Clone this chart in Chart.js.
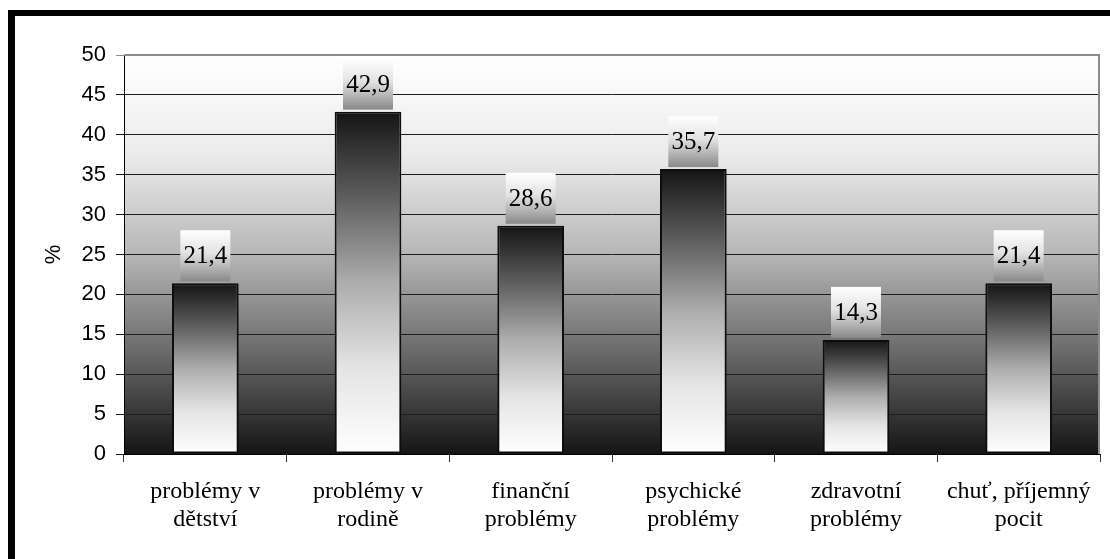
<!DOCTYPE html>
<html>
<head>
<meta charset="utf-8">
<script src="https://cdn.jsdelivr.net/npm/chart.js@4.4.1/dist/chart.umd.min.js"></script>
<style>
  html, body { margin: 0; padding: 0; background: #fff; }
  #wrap { position: relative; width: 1110px; height: 559px; overflow: hidden; }
  #wrap canvas { position: absolute; left: 0; top: 0; }
  #frame {
    position: absolute; left: 8px; top: 10px; width: 1300px; height: 800px;
    border-top: 6px solid #000; border-left: 7px solid #000; pointer-events: none;
  }
</style>
</head>
<body>
<div id="wrap">
  <canvas id="chart" width="1110" height="559"></canvas>
  <div id="frame"></div>
</div>
<script>
// Reasons given, share of respondents in %
const categories = [
  ['problémy v', 'dětství'],
  ['problémy v', 'rodině'],
  ['finanční', 'problémy'],
  ['psychické', 'problémy'],
  ['zdravotní', 'problémy'],
  ['chuť, příjemný', 'pocit']
];
const percentValues = [21.4, 42.9, 28.6, 35.7, 14.3, 21.4];
const yAxisTitle = '%';
const yMin = 0;
const yMax = 50;
const yStep = 5;

const fmtValue = v => v.toFixed(1).replace('.', ',');

// Plot-area background: white at the top fading to near black at the bottom
const plotBackground = {
  id: 'plotBackground',
  beforeDraw(chart) {
    const { ctx, chartArea: a } = chart;
    if (!a) return;
    const g = ctx.createLinearGradient(0, a.top, 0, a.bottom);
    g.addColorStop(0, '#ffffff');
    g.addColorStop(0.25, '#ebebeb');
    g.addColorStop(0.5, '#b6b6b6');
    g.addColorStop(0.75, '#686868');
    g.addColorStop(1, '#151515');
    ctx.save();
    ctx.fillStyle = g;
    ctx.fillRect(a.left, a.top, a.right - a.left, a.bottom - a.top);
    ctx.restore();
  },
  beforeDatasetsDraw(chart) {
    const { ctx, chartArea: a } = chart;
    ctx.save();
    ctx.strokeStyle = '#8c8c8c';
    ctx.lineWidth = 2;
    ctx.beginPath();
    ctx.moveTo(a.left, a.top);
    ctx.lineTo(a.right - 1, a.top);
    ctx.lineTo(a.right - 1, a.bottom);
    ctx.stroke();
    ctx.restore();
  }
};

// Value boxes above the bars
const valueBoxes = {
  id: 'valueBoxes',
  afterDatasetsDraw(chart) {
    const { ctx } = chart;
    const meta = chart.getDatasetMeta(0);
    const data = chart.data.datasets[0].data;
    const w = 50, h = 51, gap = 2;
    ctx.save();
    meta.data.forEach((bar, i) => {
      const x0 = bar.x - w / 2;
      const y1 = bar.y - gap;
      const y0 = y1 - h;
      const g = ctx.createLinearGradient(0, y0, 0, y1);
      g.addColorStop(0, '#ffffff');
      g.addColorStop(0.45, '#e2e2e2');
      g.addColorStop(1, '#898989');
      ctx.fillStyle = g;
      ctx.fillRect(x0, y0, w, h);
      ctx.fillStyle = '#000';
      ctx.font = '25px "Liberation Serif", "Times New Roman", serif';
      ctx.textAlign = 'center';
      ctx.textBaseline = 'middle';
      ctx.fillText(fmtValue(data[i]), bar.x, y0 + h / 2 + 1);
    });
    ctx.restore();
  }
};

new Chart(document.getElementById('chart'), {
  type: 'bar',
  data: {
    labels: categories,
    datasets: [{
      data: percentValues,
      backgroundColor: (c) => {
        const chart = c.chart;
        const y = chart.scales && chart.scales.y;
        if (!chart.chartArea || !y || c.type !== 'data') return '#888';
        const top = y.getPixelForValue(c.raw);
        const bottom = y.getPixelForValue(0);
        const g = chart.ctx.createLinearGradient(0, top, 0, bottom);
        g.addColorStop(0, '#141414');
        g.addColorStop(0.25, '#5e5e5e');
        g.addColorStop(0.5, '#adadad');
        g.addColorStop(0.75, '#e4e4e4');
        g.addColorStop(1, '#ffffff');
        return g;
      },
      borderColor: '#0d0d0d',
      borderWidth: 2,
      borderSkipped: false,
      barPercentage: 0.41,
      categoryPercentage: 1
    }]
  },
  options: {
    responsive: false,
    animation: false,
    devicePixelRatio: 1,
    layout: { padding: { left: 0, top: 55, right: 10, bottom: 0 } },
    plugins: {
      legend: { display: false },
      tooltip: { enabled: false }
    },
    scales: {
      x: {
        offset: true,
        grid: {
          offset: true,
          drawOnChartArea: false,
          drawTicks: true,
          tickLength: 8,
          color: '#333'
        },
        border: { color: '#000', width: 1 },
        ticks: {
          color: '#000',
          padding: 15,
          maxRotation: 0,
          autoSkip: false,
          font: { family: '"Liberation Serif", "Times New Roman", serif', size: 24, lineHeight: 1.2 }
        },
        afterFit: (s) => { s.height = 105; }
      },
      y: {
        min: yMin,
        max: yMax,
        ticks: {
          stepSize: yStep,
          color: '#000',
          padding: 10,
          font: { family: '"Liberation Sans", Arial, sans-serif', size: 22 }
        },
        grid: {
          color: (c) => (c.tick && c.tick.value === yMax ? '#8c8c8c' : '#1e1e1e'),
          lineWidth: 1,
          tickLength: 8,
          drawTicks: true
        },
        border: { color: '#000', width: 1 },
        title: {
          display: true,
          text: yAxisTitle,
          color: '#000',
          padding: { top: 41, bottom: 0 },
          font: { family: '"Liberation Sans", Arial, sans-serif', size: 22 }
        },
        afterFit: (s) => { s.width = 124; }
      }
    }
  },
  plugins: [plotBackground, valueBoxes]
});
</script>
</body>
</html>
